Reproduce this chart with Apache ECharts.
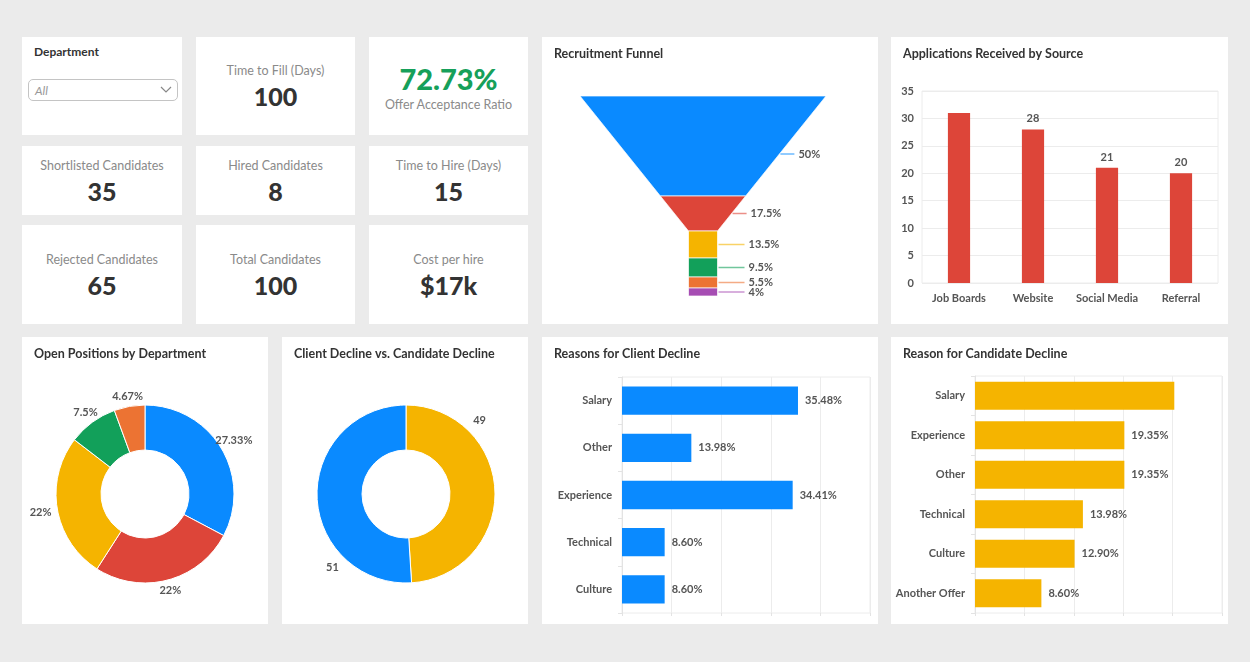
<!DOCTYPE html>
<html>
<head>
<meta charset="utf-8">
<script src="https://cdn.jsdelivr.net/npm/echarts@6/dist/echarts.min.js"></script>
<style>
  html, body { margin: 0; padding: 0; }
  body { width: 1250px; height: 662px; background: #ebebeb; position: relative; overflow: hidden;
         font-family: Lato, "Open Sans", sans-serif; }
  .card { position: absolute; background: #fff; }
  .kpi { display: flex; flex-direction: column; align-items: center; justify-content: center; padding-top: 3px; box-sizing: border-box; }
  .kpi .lbl { color: #8a8a8a; font-size: 12.5px; line-height: 14px; }
  .kpi .val { color: #333; font-size: 25px; font-weight: 900; line-height: 30px; margin-top: 3px; }
  .kpi.green .val { color: #16a05a; font-size: 29px; margin: 0 0 4px 0; order: -1; }
  .dept-title { position: absolute; left: 12px; top: 7px; font-size: 12px; font-weight: bold; color: #333; }
  .select { position: absolute; left: 6px; top: 42px; width: 150px; height: 22px; box-sizing: border-box;
            border: 1px solid #c4c4c4; border-radius: 5px; }
  .select span { position: absolute; left: 6px; top: 3px; font-size: 12px; font-style: italic; color: #999; }
  .select svg { position: absolute; right: 5px; top: 6px; }
  .chart { position: absolute; left: 0; top: 0; width: 100%; height: 100%; }
</style>
</head>
<body>
<div id="root"></div>
<script>
var FONT = 'Lato, "Open Sans", sans-serif';

// KPI tiles
var kpiLabels = ['Time to Fill (Days)', 'Offer Acceptance Ratio', 'Shortlisted Candidates', 'Hired Candidates',
                 'Time to Hire (Days)', 'Rejected Candidates', 'Total Candidates', 'Cost per hire'];
var kpiValues = ['100', '72.73%', '35', '8', '15', '65', '100', '$17k'];
var departmentOptions = ['All'];

// Recruitment funnel (share of candidates per stage)
var funnelShares = [50, 17.5, 13.5, 9.5, 5.5, 4];

// Applications received by source
var sources = ['Job Boards', 'Website', 'Social Media', 'Referral'];
var applications = [31, 28, 21, 20];

// Open positions by department
var openPositions = [27.33, 22, 22, 7.5, 4.67];

// Client decline vs candidate decline
var declineTypes = ['Candidate Decline', 'Client Decline'];
var declineCounts = [49, 51];

// Reasons for client decline
var clientReasons = ['Salary', 'Other', 'Experience', 'Technical', 'Culture'];
var clientShares = [35.48, 13.98, 34.41, 8.60, 8.60];

// Reason for candidate decline
var candidateReasons = ['Salary', 'Experience', 'Other', 'Technical', 'Culture', 'Another Offer'];
var candidateShares = [25.82, 19.35, 19.35, 13.98, 12.90, 8.60];

var BLUE = '#0a8aff', RED = '#dd4539', YELLOW = '#f5b400', GREEN = '#12a05a', ORANGE = '#ec7333', PURPLE = '#a64db3';
var TXT = '#555';

var root = document.getElementById('root');
function card(x, y, w, h) {
    var d = document.createElement('div');
    d.className = 'card';
    d.style.left = x + 'px'; d.style.top = y + 'px';
    d.style.width = w + 'px'; d.style.height = h + 'px';
    root.appendChild(d);
    return d;
}

// department filter
var dep = card(22, 37, 160, 98);
dep.innerHTML = '<div class="dept-title">Department</div>' +
    '<div class="select"><span>' + departmentOptions[0] + '</span>' +
    '<svg width="12" height="8"><polyline points="1,1 6,6 11,1" fill="none" stroke="#888" stroke-width="1.2"/></svg></div>';

// kpi tiles
var kpiBoxes = [[196, 37, 159, 98], [369, 37, 159, 98],
                [22, 146, 160, 69], [196, 146, 159, 69], [369, 146, 159, 69],
                [22, 225, 160, 99], [196, 225, 159, 99], [369, 225, 159, 99]];
kpiLabels.forEach(function (lbl, i) {
    var b = kpiBoxes[i];
    var d = card(b[0], b[1], b[2], b[3]);
    d.className += ' kpi' + (i === 1 ? ' green' : '');
    d.innerHTML = '<div class="lbl">' + lbl + '</div><div class="val">' + kpiValues[i] + '</div>';
});

function chartCard(x, y, w, h) {
    var d = card(x, y, w, h);
    var c = document.createElement('div');
    c.className = 'chart';
    d.appendChild(c);
    return echarts.init(c);
}
function titleOf(text) {
    return {
        text: text, left: 12, top: 10, padding: 0,
        textStyle: {fontFamily: FONT, fontSize: 12.5, fontWeight: 'bold', color: '#333'}
    };
}
var labelStyle = {fontFamily: FONT, fontSize: 11, fontWeight: 'bold', color: TXT};

// ---------- Recruitment funnel ----------
var funnelColors = [BLUE, RED, YELLOW, GREEN, ORANGE, PURPLE];
var NECK_AT = funnelShares[0] + funnelShares[1];
var NECK_HALF = 0.118;
function halfWidth(c) {
    return c >= NECK_AT ? NECK_HALF : 1 - (1 - NECK_HALF) * c / NECK_AT;
}
var funnelData = [];
var acc = 0;
funnelShares.forEach(function (v, i) {
    funnelData.push({value: [acc, acc + v, v], itemStyle: {color: funnelColors[i]}});
    acc += v;
});
var funnel = chartCard(542, 37, 336, 287);
funnel.setOption({
    title: titleOf('Recruitment Funnel'),
    grid: {left: 38, width: 246, top: 59, bottom: 28},
    xAxis: {type: 'value', min: -1, max: 1, show: false},
    yAxis: {type: 'value', min: 0, max: 100, inverse: true, show: false},
    series: [{
        type: 'custom',
        data: funnelData,
        renderItem: function (params, api) {
            var s = api.value(0), e = api.value(1);
            // big top stage has its label a bit lower than centre
            var mid = s + (e - s) * (params.dataIndex === 0 ? 0.58 : 0.5);
            var pt = function (c, side) { return api.coord([side * halfWidth(c), c]); };
            var edge = pt(mid, 1);
            var neckRight = api.coord([NECK_HALF, 0])[0];
            var tip = Math.max(edge[0] + 15, neckRight + 27);
            var color = api.visual('color');
            return {
                type: 'group',
                children: [{
                    type: 'polygon',
                    shape: {points: [pt(s, -1), pt(s, 1), pt(e, 1), pt(e, -1)]},
                    style: {fill: color, stroke: 'rgba(255,255,255,0.7)', lineWidth: 1}
                }, {
                    type: 'line',
                    shape: {x1: edge[0] + 1, y1: edge[1], x2: tip, y2: edge[1]},
                    style: {stroke: color, opacity: 0.6, lineWidth: 1.5}
                }, {
                    type: 'text',
                    x: tip + 4, y: edge[1],
                    style: {text: api.value(2) + '%', fill: TXT, font: 'bold 11px ' + FONT,
                            align: 'left', verticalAlign: 'middle'}
                }]
            };
        }
    }]
});

// ---------- Applications by source ----------
var apps = chartCard(891, 37, 337, 287);
apps.setOption({
    title: titleOf('Applications Received by Source'),
    grid: {left: 31, right: 10, top: 54, bottom: 41, show: true, borderColor: '#ececec', borderWidth: 1},
    xAxis: {
        type: 'category', data: sources,
        axisLine: {show: false}, axisTick: {show: false},
        axisLabel: {interval: 0, fontFamily: FONT, fontSize: 11, fontWeight: 'bold', color: TXT, margin: 10}
    },
    yAxis: {
        type: 'value', min: 0, max: 35, interval: 5,
        axisLine: {show: false}, axisTick: {show: false},
        splitLine: {lineStyle: {color: '#ececec'}},
        axisLabel: {fontFamily: FONT, fontSize: 11, fontWeight: 'bold', color: TXT, margin: 8}
    },
    series: [{
        type: 'bar', barWidth: '30%',
        itemStyle: {color: RED},
        label: Object.assign({show: true, position: 'top', distance: 5}, labelStyle),
        data: applications.map(function (v, i) { return i === 0 ? {value: v, label: {show: false}} : v; })
    }]
});

// place a donut label so that its box just clears a given radius along the slice's mid angle
function clearRadiusLayout(center, values, startAngle, gap) {
    var total = values.reduce(function (a, b) { return a + b; }, 0);
    return function (p) {
        var before = 0;
        for (var i = 0; i < p.dataIndex; i++) before += values[i];
        var a = (startAngle - (before + values[p.dataIndex] / 2) / total * 360) * Math.PI / 180;
        var dx = Math.cos(a), dy = -Math.sin(a);
        var hw = p.labelRect.width / 2, hh = p.labelRect.height / 2 - 1;
        var ext = Math.min(Math.abs(dx) > 1e-6 ? hw / Math.abs(dx) : 1e9,
                           Math.abs(dy) > 1e-6 ? hh / Math.abs(dy) : 1e9);
        return {x: center[0] + dx * (gap + ext), y: center[1] + dy * (gap + ext),
                align: 'center', verticalAlign: 'middle'};
    };
}

// invisible thin ring whose inside labels sit centred on a direction
function labelRing(center, r, startAngle, values, fmt) {
    return {
        type: 'pie', center: center, radius: [r - 1, r + 1], startAngle: startAngle,
        silent: true, itemStyle: {color: 'rgba(0,0,0,0)'},
        label: Object.assign({show: true, position: 'inside', formatter: fmt}, labelStyle),
        labelLine: {show: false},
        data: values.slice()
    };
}

// ---------- Open positions by department ----------
var openPie = chartCard(22, 337, 246, 287);
openPie.setOption({
    title: titleOf('Open Positions by Department'),
    series: [{
        type: 'pie', center: [123, 157], radius: [44, 89], startAngle: 90,
        avoidLabelOverlap: false,
        itemStyle: {borderColor: '#fff', borderWidth: 1},
        label: Object.assign({show: true, position: 'outside', formatter: '{c}%'}, labelStyle),
        labelLine: {show: false},
        labelLayout: clearRadiusLayout([123, 157], openPositions, 90, 95),
        emphasis: {disabled: true},
        data: openPositions.map(function (v, i) {
            return {value: v, itemStyle: {color: [BLUE, RED, YELLOW, GREEN, ORANGE][i]}};
        })
    }]
});

// ---------- Client decline vs candidate decline ----------
var declinePie = chartCard(282, 337, 246, 287);
declinePie.setOption({
    title: titleOf('Client Decline vs. Candidate Decline'),
    series: [{
        type: 'pie', center: [124, 157], radius: [44, 89], startAngle: 90,
        itemStyle: {borderColor: '#fff', borderWidth: 1},
        label: {show: false}, labelLine: {show: false},
        emphasis: {disabled: true},
        data: declineTypes.map(function (n, i) {
            return {name: n, value: declineCounts[i], itemStyle: {color: [YELLOW, BLUE][i]}};
        })
    }, labelRing([124, 157], 101, 133.2, declineCounts, '{c}')]
});

// ---------- horizontal bars ----------
function hbarOption(title, cats, vals, color, grid, max, interval, barWidth, hideFirst) {
    return {
        title: titleOf(title),
        grid: Object.assign({show: true, borderColor: '#ececec', borderWidth: 1}, grid),
        xAxis: {
            type: 'value', min: 0, max: max, interval: interval,
            axisLabel: {show: false},
            axisLine: {show: false},
            axisTick: {show: true, length: 3, lineStyle: {color: '#e3e3e3'}},
            splitLine: {lineStyle: {color: '#ececec'}}
        },
        yAxis: {
            type: 'category', data: cats, inverse: true,
            axisLine: {show: true, lineStyle: {color: '#e3e3e3'}},
            axisTick: {show: true, length: 4, lineStyle: {color: '#e3e3e3'}},
            axisLabel: {fontFamily: FONT, fontSize: 11, fontWeight: 'bold', color: TXT, margin: 10}
        },
        series: [{
            type: 'bar', barWidth: barWidth,
            itemStyle: {color: color},
            label: Object.assign({show: true, position: 'right', distance: 7,
                formatter: function (p) { return p.value.toFixed(2) + '%'; }}, labelStyle),
            data: vals.map(function (v, i) { return hideFirst && i === 0 ? {value: v, label: {show: false}} : v; })
        }]
    };
}

var clientBars = chartCard(542, 337, 336, 287);
clientBars.setOption(hbarOption('Reasons for Client Decline', clientReasons, clientShares, BLUE,
    {left: 80, right: 8, top: 40, bottom: 11}, 50, 10, '60%', false));

var candBars = chartCard(891, 337, 337, 287);
candBars.setOption(hbarOption('Reason for Candidate Decline', candidateReasons, candidateShares, YELLOW,
    {left: 84, right: 6, top: 39, bottom: 11}, 32, 6.4, '71%', true));
</script>
</body>
</html>
